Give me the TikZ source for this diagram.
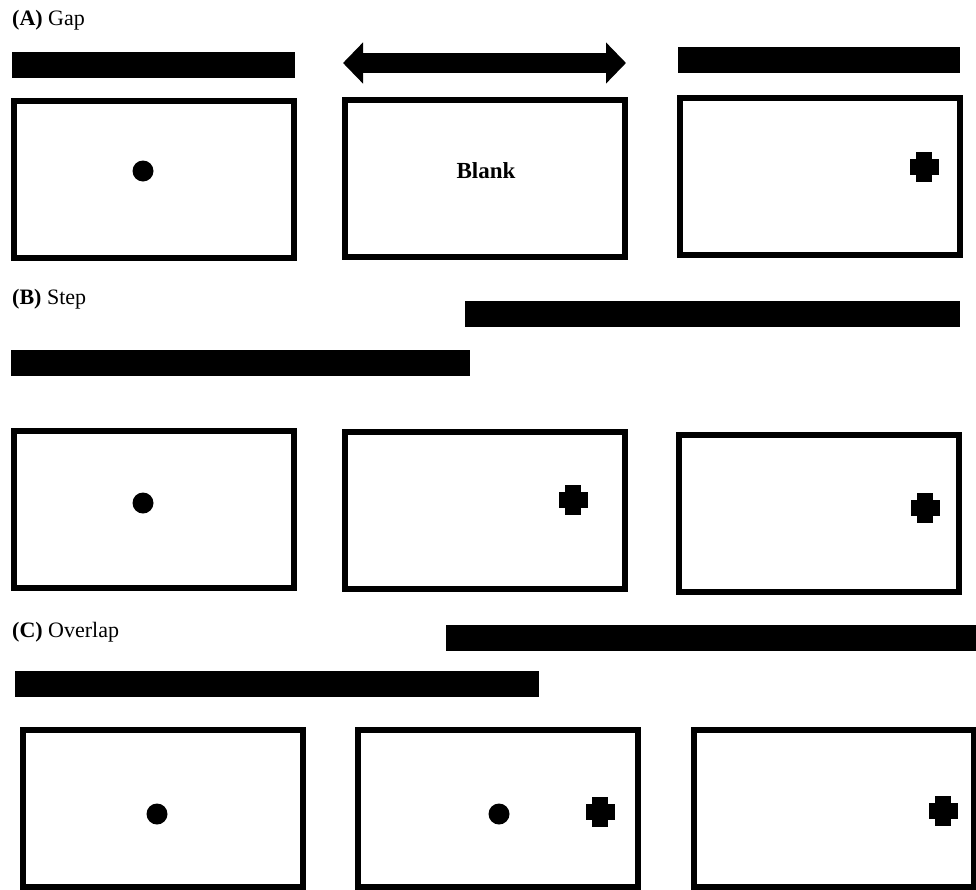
\documentclass[tikz,border=0pt]{standalone}
\usepackage{fontspec}
\setmainfont{Liberation Serif}
\usetikzlibrary{arrows.meta}
\definecolor{ink}{RGB}{0,0,0}
\tikzset{
  screen/.style={draw=ink,fill=white,line width=6pt,minimum width=280pt,minimum height=157pt,inner sep=0pt},
  bar/.style={fill=ink,anchor=north west,inner sep=0pt,minimum height=26pt},
  fixdot/.style={circle,fill=ink,inner sep=0pt,minimum size=21pt},
  gaparrow/.style={{Triangle[length=20pt,width=40pt]}-{Triangle[length=20pt,width=40pt]},line width=20pt,ink},
  plab/.style={font=\fontsize{22}{26}\selectfont,anchor=base west,inner sep=0pt},
  blanklab/.style={font=\fontsize{23}{27}\selectfont\bfseries,anchor=base,inner sep=0pt},
}
% target cross, centred at a coordinate
\newcommand{\targetcross}[1]{%
  \fill[ink] ($(#1)+(-14.5,-8)$) rectangle ($(#1)+(14.5,8)$);
  \fill[ink] ($(#1)+(-8,-15)$) rectangle ($(#1)+(8,15)$);
}
\usetikzlibrary{calc}
\begin{document}
\begin{tikzpicture}[x=1pt,y=-1pt]
\useasboundingbox (0,0) rectangle (976,889);
% ================= Row A: gap =================
\node[plab] (labA) at (12,25) {\textbf{(A)} Gap};
\node[bar,minimum width=283pt] (barA1) at (12,52) {};
\coordinate (gapL) at (343,63);
\coordinate (gapR) at (626,63);
\draw[gaparrow] (gapL) -- (gapR);
\node[bar,minimum width=282pt] (barA3) at (678,47) {};
\node[screen] (scrA1) at (153.5,179) {};
\node[screen] (scrA2) at (484.5,178) {};
\node[screen] (scrA3) at (819.5,176.5) {};
\node[fixdot] (dotA1) at (143,171) {};
\node[blanklab] (blank) at (486,178) {Blank};
\coordinate (crA3) at (924,167);
\targetcross{crA3}

% ================= Row B: step =================
\node[plab] (labB) at (12,304) {\textbf{(B)} Step};
\node[bar,minimum width=495pt] (barB2) at (465,301) {};
\node[bar,minimum width=459pt] (barB1) at (11,350) {};
\node[screen] (scrB1) at (153.5,509) {};
\node[screen] (scrB2) at (484.5,510) {};
\node[screen] (scrB3) at (819,513) {};
\node[fixdot] (dotB1) at (143,503) {};
\coordinate (crB2) at (573,500);
\coordinate (crB3) at (925,508);
\targetcross{crB2}
\targetcross{crB3}

% ================= Row C: overlap =================
\node[plab] (labC) at (12,637) {\textbf{(C)} Overlap};
\node[bar,minimum width=530pt] (barC2) at (446,625) {};
\node[bar,minimum width=524pt] (barC1) at (15,671) {};
\node[screen] (scrC1) at (162.5,808.5) {};
\node[screen] (scrC2) at (498,808.5) {};
\node[screen] (scrC3) at (833.5,808.5) {};
\node[fixdot] (dotC1) at (157,814) {};
\node[fixdot] (dotC2) at (499,814) {};
\coordinate (crC2) at (600,812);
\coordinate (crC3) at (943,811);
\targetcross{crC2}
\targetcross{crC3}
\end{tikzpicture}
\end{document}
